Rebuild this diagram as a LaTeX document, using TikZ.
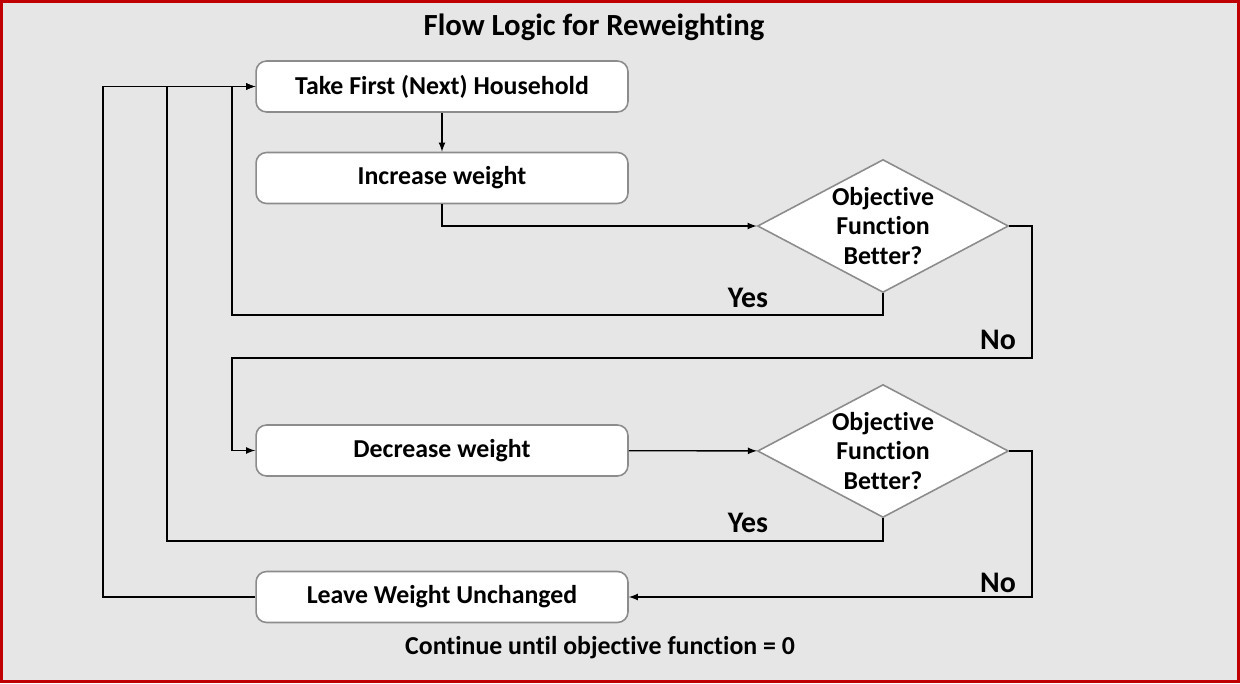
\documentclass[tikz,border=0pt]{standalone}
\usepackage{fontspec}
\setmainfont{Carlito}[Ligatures=NoCommon]
\usepackage{tikz}
\usetikzlibrary{shapes.geometric}
\definecolor{bggray}{HTML}{E7E6E6}
\definecolor{boxgray}{HTML}{8C8C8C}
\definecolor{framered}{HTML}{C00000}

\begin{document}
\begin{tikzpicture}[
x=0.02cm, y=-0.02cm,
font=\bfseries,
mybox/.style={
  draw=boxgray,
  fill=white,
  line width=0.9pt,
  rounded corners=6pt,
  minimum width=7.44cm,
  minimum height=1.02cm,
  font=\bfseries\fontsize{14.7}{16}\selectfont
  },
mydiamond/.style={
  diamond,
  draw=boxgray,
  fill=white,
  line width=0.9pt,
  aspect=1.89,
  inner sep=0pt,
  minimum width=5.02cm,
  minimum height=2.66cm,
  align=center,
  font=\bfseries\fontsize{14.7}{17}\selectfont
  },
myarrow/.style={-latex, line width=0.8pt},
mylabel/.style={font=\bfseries\fontsize{17}{19}\selectfont}
]
\useasboundingbox (0,0) rectangle (1240,683);
\draw[framered, line width=1.2pt, fill=bggray] (1.5,1.5) rectangle (1238.5,681.5);

\node[font=\bfseries\fontsize{17.5}{20}\selectfont] (title) at (594,27) {Flow Logic for Reweighting};

\node[mybox] (take) at (442,86.5) {Take First (Next) Household};
\node[mybox] (incr) at (442,178) {Increase weight};
\node[mybox] (decr) at (442,450.5) {Decrease weight};
\node[mybox] (leave) at (442,597) {Leave Weight Unchanged};

\node[mydiamond] (obj1) at (883,226) {Objective\\Function\\Better?};
\node[mydiamond] (obj2) at (883,451) {Objective\\Function\\Better?};

\node[font=\bfseries\fontsize{14.7}{16}\selectfont] (note) at (600,648) {Continue until objective function = 0};

\draw[myarrow] (take) -- (incr);
\draw[myarrow] (incr.south) |- (obj1.west);
\draw[myarrow] (obj1.south) |- (232,315) |- (take.west);
\draw[myarrow] (obj1.east) -| (1032,358) -- (232,358) |- (decr.west);
\draw[myarrow] (decr) -- (obj2);
\draw[myarrow] (obj2.south) |- (167,541) |- (take.west);
\draw[myarrow] (obj2.east) -| (1032,597) -- (leave.east);
\draw[myarrow] (leave.west) -- (103,597) |- (take.west);

\node[mylabel] (yes1) at (748,298) {Yes};
\node[mylabel] (yes2) at (748,523) {Yes};
\node[mylabel] (no1) at (998,340) {No};
\node[mylabel] (no2) at (998,583) {No};
\end{tikzpicture}
\end{document}
